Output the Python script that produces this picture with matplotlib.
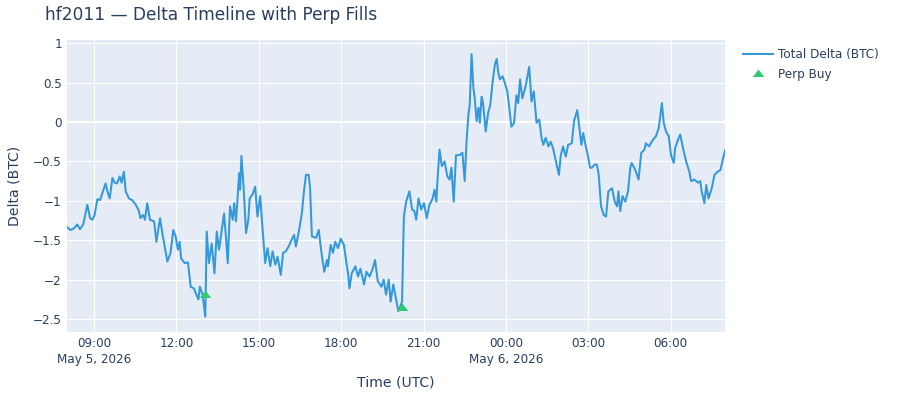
import pandas as pd
import matplotlib
matplotlib.use("Agg")
import matplotlib.pyplot as plt
import matplotlib.dates as mdates
from matplotlib.lines import Line2D

# minutes after 2026-05-05 08:00 UTC, and total delta in BTC
minutes = [
    0, 8, 16, 23, 29, 36, 39, 45, 51, 56, 61, 67, 73, 78, 85, 89, 94, 100, 105, 110,
    116, 120, 125, 129, 136, 143, 151, 158, 161, 167, 171, 176, 182, 191, 196, 204, 209, 220, 227, 233,
    238, 243, 247, 250, 258, 265, 271, 278, 282, 288, 291, 297, 303, 306, 311, 317, 323, 328, 333, 341,
    344, 348, 352, 357, 363, 366, 370, 373, 377, 379, 382, 387, 392, 397, 400, 406, 412, 417, 423, 428,
    434, 439, 445, 450, 456, 461, 468, 473, 479, 485, 492, 497, 501, 508, 514, 519, 523, 529, 532, 536,
    545, 551, 556, 563, 569, 571, 577, 582, 587, 593, 599, 606, 611, 615, 618, 623, 631, 637, 642, 650,
    655, 662, 669, 674, 680, 688, 693, 698, 704, 708, 714, 720, 725, 733, 737, 742, 749, 755, 760, 764,
    769, 775, 781, 787, 793, 800, 804, 808, 811, 815, 820, 826, 832, 837, 841, 846, 851, 859, 865, 870,
    874, 878, 881, 885, 889, 892, 896, 900, 903, 907, 910, 916, 921, 926, 931, 936, 940, 943, 947, 953,
    958, 963, 967, 972, 978, 983, 987, 991, 996, 1002, 1005, 1011, 1016, 1021, 1027, 1033, 1038, 1042, 1047, 1053,
    1058, 1063, 1071, 1076, 1080, 1085, 1091, 1096, 1104, 1109, 1116, 1120, 1125, 1129, 1134, 1139, 1144, 1148, 1154, 1159,
    1163, 1168, 1174, 1179, 1184, 1192, 1198, 1203, 1206, 1210, 1215, 1221, 1227, 1232, 1235, 1243, 1250, 1256, 1263, 1266,
    1273, 1281, 1288, 1294, 1297, 1301, 1305, 1310, 1316, 1321, 1327, 1330, 1336, 1341, 1348, 1354, 1361, 1365, 1372, 1380,
    1385, 1388, 1394, 1398, 1403, 1410, 1416, 1423, 1429, 1434, 1438, 1439,
]
delta_btc = [
    -1.33, -1.37, -1.35, -1.30, -1.36, -1.30, -1.22, -1.05, -1.22, -1.24, -1.18, -0.98, -0.99, -0.90, -0.78, -0.88, -0.97, -0.71, -0.77, -0.78,
    -0.69, -0.77, -0.63, -0.88, -0.97, -0.99, -1.05, -1.13, -1.22, -1.18, -1.24, -1.03, -1.24, -1.26, -1.52, -1.22, -1.41, -1.77, -1.66, -1.37,
    -1.45, -1.62, -1.52, -1.73, -1.79, -1.78, -2.09, -2.11, -2.17, -2.25, -2.09, -2.19, -2.47, -1.39, -1.79, -1.54, -1.92, -1.39, -1.62, -1.28,
    -1.16, -1.45, -1.79, -1.07, -1.24, -1.03, -1.26, -1.01, -0.65, -0.86, -0.43, -0.86, -1.41, -1.24, -0.97, -0.92, -0.82, -1.20, -0.94, -1.35,
    -1.79, -1.60, -1.83, -1.64, -1.81, -1.71, -1.94, -1.66, -1.64, -1.58, -1.49, -1.43, -1.58, -1.37, -1.16, -0.86, -0.67, -0.67, -0.84, -1.45,
    -1.47, -1.37, -1.62, -1.90, -1.75, -1.83, -1.56, -1.66, -1.52, -1.60, -1.48, -1.56, -1.77, -1.92, -2.11, -1.92, -1.83, -1.96, -1.86, -2.06,
    -1.90, -1.96, -1.86, -1.75, -2.02, -2.09, -2.00, -2.19, -2.00, -2.28, -2.06, -2.25, -2.40, -2.28, -1.20, -1.01, -0.88, -1.11, -1.13, -1.24,
    -0.97, -1.11, -1.03, -1.22, -1.05, -0.97, -0.86, -1.01, -0.69, -0.35, -0.56, -0.50, -0.69, -0.73, -0.58, -1.01, -0.42, -0.42, -0.39, -0.75,
    -0.25, 0.09, 0.22, 0.86, 0.43, 0.30, 0.01, 0.18, -0.01, 0.32, 0.24, -0.12, 0.11, 0.22, 0.51, 0.73, 0.80, 0.64, 0.54, 0.58,
    0.49, 0.39, 0.20, -0.06, -0.01, 0.34, 0.24, 0.54, 0.30, 0.43, 0.51, 0.70, 0.26, 0.39, -0.01, 0.03, -0.20, -0.29, -0.20, -0.31,
    -0.25, -0.33, -0.54, -0.67, -0.42, -0.31, -0.44, -0.29, -0.27, 0.01, 0.15, -0.04, -0.29, -0.14, -0.29, -0.42, -0.58, -0.58, -0.54, -0.54,
    -0.67, -1.07, -1.18, -1.20, -0.88, -0.84, -1.01, -1.07, -0.88, -1.13, -0.94, -1.01, -0.88, -0.58, -0.52, -0.61, -0.73, -0.39, -0.35, -0.27,
    -0.31, -0.23, -0.18, -0.08, 0.05, 0.24, -0.01, -0.12, -0.18, -0.42, -0.52, -0.33, -0.23, -0.16, -0.35, -0.50, -0.63, -0.75, -0.73, -0.77,
    -0.75, -0.88, -1.03, -0.80, -0.97, -0.84, -0.67, -0.63, -0.61, -0.48, -0.39, -0.36,
]

# perp fills
fill_minutes = [303, 733]
fill_delta = [-2.20, -2.36]

y_ticks = [1, 0.5, 0, -0.5, -1, -1.5, -2, -2.5]
y_tick_labels = ["1", "0.5", "0", "\u22120.5", "\u22121", "\u22121.5", "\u22122", "\u22122.5"]

start = pd.Timestamp("2026-05-05 08:00")
times = start + pd.to_timedelta(minutes, unit="min")
fill_times = start + pd.to_timedelta(fill_minutes, unit="min")

TEXT = "#2a3f5f"
BG = "#E5ECF6"
LINE = "#3498db"
GREEN = "#2ecc71"
# plotly-style triangle: wider than tall
TRI = [(-1.155, -0.5), (1.155, -0.5), (0, 1), (-1.155, -0.5)]

plt.rcParams["font.family"] = ["DejaVu Sans"]

fig = plt.figure(figsize=(9, 4), dpi=100)
ax = fig.add_axes([66.7 / 900, 1 - 331.7 / 400, (725 - 66.7) / 900, (331.7 - 40) / 400])
ax.set_facecolor(BG)
for s in ax.spines.values():
    s.set_visible(False)

ax.plot(times, delta_btc, color=LINE, lw=1.45, zorder=3)
ax.plot(fill_times, fill_delta, linestyle="none", marker=TRI, markersize=8.3,
        markeredgewidth=0, color=GREEN, zorder=4)

ax.set_xlim(start, start + pd.Timedelta(minutes=1439))
ax.set_ylim(-2.66, 1.04)
ax.set_yticks(y_ticks)
ax.set_yticklabels(y_tick_labels)

ax.xaxis.set_major_locator(mdates.HourLocator(byhour=range(0, 24, 3)))


def fmt_time(x, pos):
    d = mdates.num2date(x)
    label = d.strftime("%H:%M")
    if pos == 0 or (d.hour == 0 and d.minute == 0):
        label += "\n" + d.strftime("%b ") + str(d.day) + d.strftime(", %Y")
    return label


ax.xaxis.set_major_formatter(plt.FuncFormatter(fmt_time))

ax.grid(True, color="white", lw=0.8, zorder=0)
ax.axhline(0, color="white", lw=1.6, zorder=1)
ax.set_axisbelow(True)
ax.tick_params(length=0, labelsize=8.64, colors=TEXT)
ax.tick_params(axis="x", pad=3.5)
ax.tick_params(axis="y", pad=3.5)
for lbl in ax.get_xticklabels():
    lbl.set_linespacing(1.3)

fig.text(45 / 900, 1 - 15 / 400, "hf2011 \u2014 Delta Timeline with Perp Fills",
         fontsize=12.24, color=TEXT, ha="left", va="center")
fig.text(396 / 900, 1 - 382 / 400, "Time (UTC)", fontsize=10.08, color=TEXT,
         ha="center", va="center")
fig.text(15 / 900, 1 - 186 / 400, "Delta (BTC)", fontsize=10.08, color=TEXT,
         ha="center", va="center", rotation=90)

handles = [
    Line2D([], [], color=LINE, lw=1.45),
    Line2D([], [], color=GREEN, marker=TRI, markersize=8.3, markeredgewidth=0,
           linestyle="none"),
]
fig.legend(handles, ["Total Delta (BTC)", "Perp Buy"], loc="upper left",
           bbox_to_anchor=(743 / 900, 1 - 48 / 400), frameon=False,
           fontsize=8.64, labelcolor=TEXT, handlelength=2.5, handletextpad=0.45,
           labelspacing=0.6, borderaxespad=0, borderpad=0)

fig.savefig("out.png", dpi=100)
